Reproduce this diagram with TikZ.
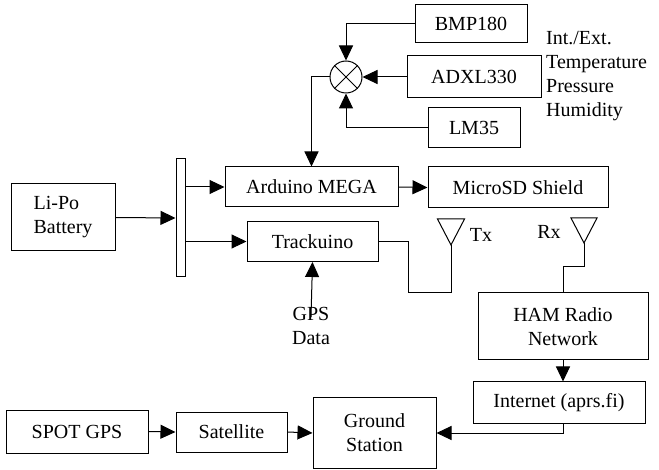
\documentclass[tikz,border=0pt]{standalone}
\usepackage{fontspec}
\setmainfont{Liberation Serif}
\usetikzlibrary{arrows.meta}
\begin{document}
\begin{tikzpicture}[x=1pt,y=-1pt,
  every node/.style={font=\fontsize{20}{24}\selectfont},
  box/.style={draw, line width=1pt, inner sep=0pt, align=center},
  wire/.style={line width=1pt},
  arr/.style={line width=1pt, -{Triangle[length=15pt,width=14pt]}}]
\useasboundingbox (0,0) rectangle (659,470);
% sensors
\node[box, minimum width=112, minimum height=38] (bmp) at (471,24) {BMP180};
\node[box, minimum width=134, minimum height=42] (adxl) at (474,77) {ADXL330};
\node[box, minimum width=92, minimum height=40] (lm) at (474,128) {LM35};
\node[draw, circle, line width=1pt, minimum size=32, inner sep=0pt] (mult) at (346,77) {};
\draw[wire] (mult.45) -- (mult.225) (mult.135) -- (mult.315);
\node[anchor=west, align=left, inner sep=0pt] (lbl) at (546,76) {Int./Ext.\\Temperature\\Pressure\\Humidity};
% main
\node[box, minimum width=173, minimum height=40] (ard) at (311.5,187) {Arduino MEGA};
\node[box, minimum width=180, minimum height=41] (msd) at (518,187.5) {MicroSD Shield};
\node[box, minimum width=9, minimum height=118] (bar) at (180.5,218) {};
\node[box, minimum width=104, minimum height=67, align=left] (lipo) at (63,217.5) {Li-Po\\Battery};
\node[box, minimum width=131, minimum height=40] (trk) at (312.5,241.5) {Trackuino};
\node[align=center, inner sep=0pt] (gps) at (311,326) {GPS\\Data};
\node[box, minimum width=170, minimum height=67] (ham) at (563,326.5) {HAM Radio\\Network};
\node[box, minimum width=172, minimum height=41] (inet) at (559,402.5) {Internet (aprs.fi)};
\node[box, minimum width=123, minimum height=70] (gs) at (374.5,433) {Ground\\Station};
\node[box, minimum width=142, minimum height=43] (spot) at (77,431.5) {SPOT GPS};
\node[box, minimum width=111, minimum height=40] (sat) at (231.5,432) {Satellite};
% antennas
\coordinate (txa) at (451,245);
\coordinate (rxa) at (584,243);
\coordinate (tw) at (408,293);
\coordinate (rw) at (584,267);
\draw[wire] (txa) -- ++(-13.5,-26) -- ++(27,0) -- cycle;
\draw[wire] (rxa) -- ++(-13,-25) -- ++(26,0) -- cycle;
\node (tx) at (481,235) {Tx};
\node (rx) at (549,232) {Rx};
% connectors
\draw[arr] (bmp.west) -| (mult.north);
\draw[arr] (adxl.west) -- (mult.east);
\draw[arr] (lm.west) -| (mult.south);
\draw[arr] (mult.west) -| (ard.north);
\draw[arr] (lipo.east) -- (bar.west);
\draw[arr] (bar.east |- ard.west) -- (ard.west);
\draw[arr] (bar.east |- trk.west) -- (trk.west);
\draw[arr] (ard.east) -- (msd.west);
\draw[arr] ([yshift=-10pt]gps.north) -- (trk.south);
\draw[wire] (trk.east) -| (tw) -| (txa);
\draw[wire] (rxa) -- (rw) -| (ham.north);
\draw[arr] (ham.south) -- (ham.south |- inet.north);
\draw[arr] (ham.south |- inet.south) |- (gs.east);
\draw[arr] (spot.east) -- (sat.west);
\draw[arr] (sat.east) -- (gs.west);
\end{tikzpicture}
\end{document}
